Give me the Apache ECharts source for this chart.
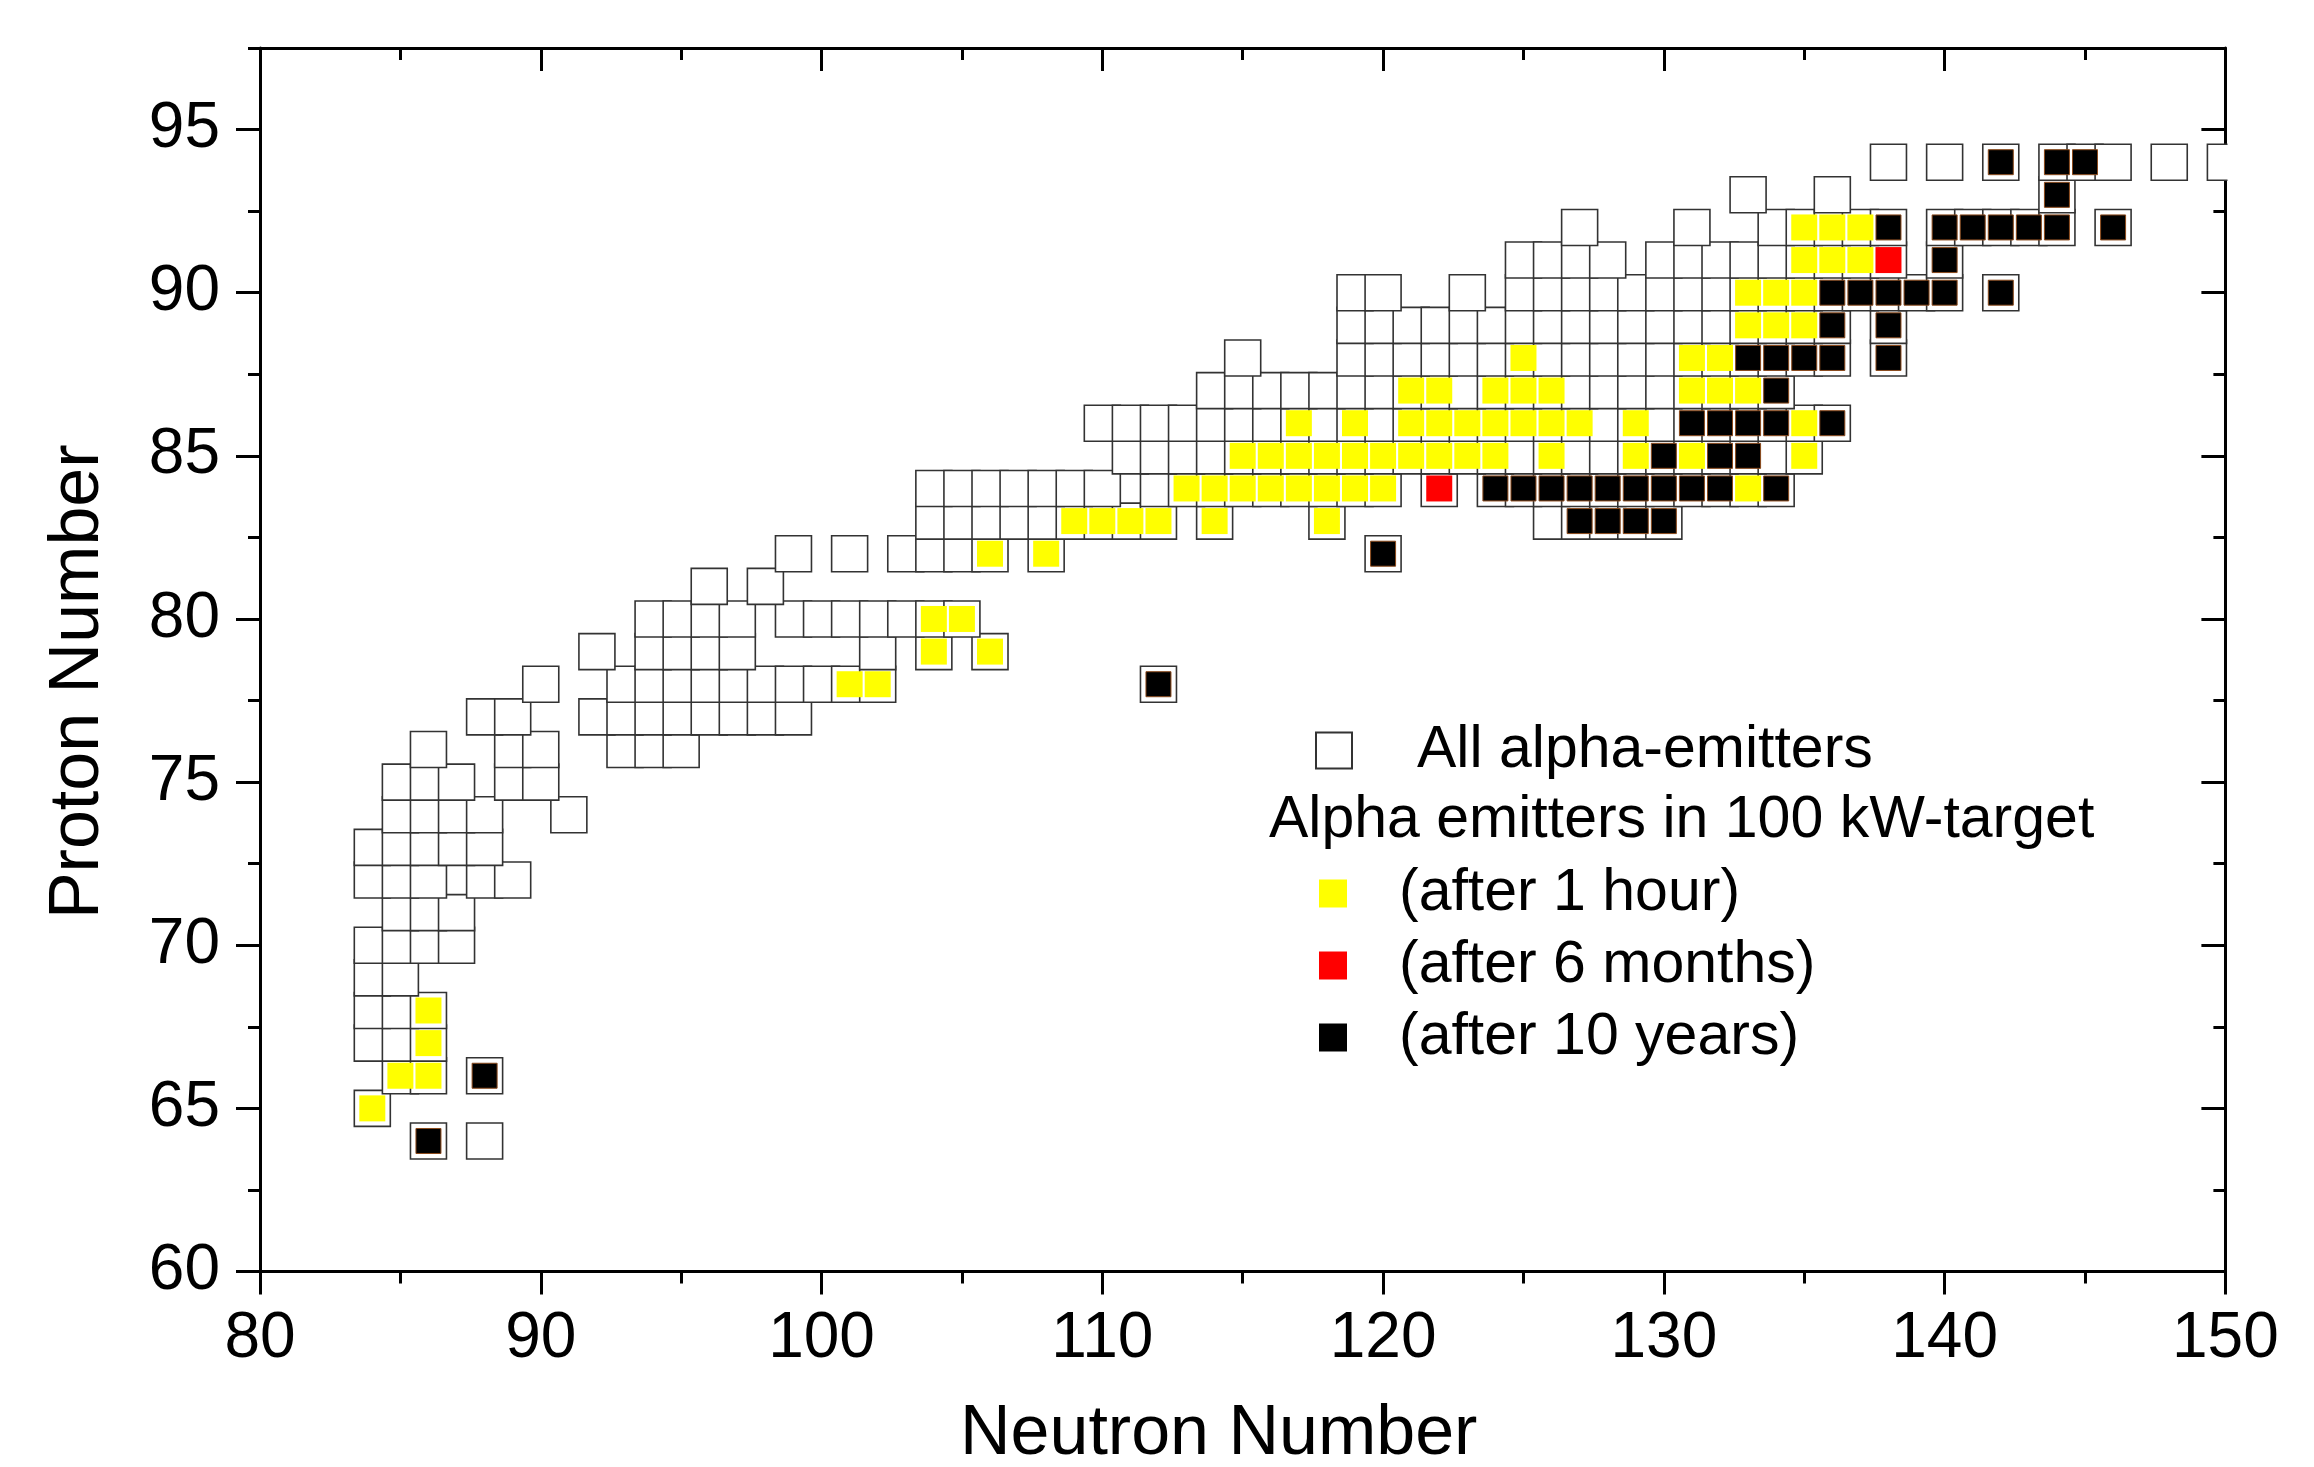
<!DOCTYPE html>
<html>
<head>
<meta charset="utf-8">
<title>Alpha emitters</title>
<script src="https://cdn.jsdelivr.net/npm/echarts@6/dist/echarts.min.js"></script>
<style>
    html, body { margin: 0; padding: 0; background: #fff; }
    #chart { width: 2314px; height: 1467px; }
</style>
</head>
<body>
<div id="chart"></div>
<script>
//************************* data ******************************//
// every row: [Z, N, N, ...]  (proton number first, then neutron numbers)
var allAlphaRows = [
    [64, 86, 88],
    [65, 84],
    [66, 85, 86, 88],
    [67, 84, 85, 86],
    [68, 84, 85, 86],
    [69, 84, 85],
    [70, 84, 85, 86, 87],
    [71, 85, 86, 87],
    [72, 84, 85, 86, 88, 89],
    [73, 84, 85, 86, 87, 88],
    [74, 85, 86, 87, 88, 91],
    [75, 85, 86, 87, 89, 90],
    [76, 86, 89, 90, 93, 94, 95],
    [77, 88, 89, 92, 93, 94, 95, 96, 97, 98, 99],
    [78, 90, 93, 94, 95, 96, 97, 98, 99, 100, 101, 102, 112],
    [79, 92, 94, 95, 96, 97, 102, 104, 106],
    [80, 94, 95, 96, 97, 99, 100, 101, 102, 103, 104, 105],
    [81, 96, 98],
    [82, 99, 101, 103, 104, 105, 106, 108, 120],
    [83, 104, 105, 106, 107, 108, 109, 110, 111, 112, 114, 118, 126, 127, 128, 129, 130],
    [84, 104, 105, 106, 107, 108, 109, 110, 112, 113, 114, 115, 116, 117, 118, 119, 120, 122, 124, 125, 126, 127, 128, 129, 130, 131, 132, 133, 134],
    [85, 111, 112, 113, 114, 115, 116, 117, 118, 119, 120, 121, 122, 123, 124, 125, 126, 127, 128, 129, 130, 131, 132, 133, 134, 135],
    [86, 110, 111, 112, 113, 114, 115, 116, 117, 118, 119, 120, 121, 122, 123, 124, 125, 126, 127, 128, 129, 130, 131, 132, 133, 134, 135, 136],
    [87, 114, 115, 116, 117, 118, 119, 120, 121, 122, 123, 124, 125, 126, 127, 128, 129, 130, 131, 132, 133, 134],
    [88, 115, 119, 120, 121, 122, 123, 124, 125, 126, 127, 128, 129, 130, 131, 132, 133, 134, 135, 136, 138],
    [89, 119, 120, 121, 122, 123, 124, 125, 126, 127, 128, 129, 130, 131, 132, 133, 134, 135, 136, 138],
    [90, 119, 120, 123, 125, 126, 127, 128, 129, 130, 131, 132, 133, 134, 135, 136, 137, 138, 139, 140, 142],
    [91, 125, 126, 127, 128, 130, 131, 132, 133, 134, 135, 136, 137, 138, 140],
    [92, 127, 131, 134, 135, 136, 137, 138, 140, 141, 142, 143, 144, 146],
    [93, 133, 136, 144],
    [94, 138, 140, 142, 144, 145, 146, 148, 150]
];
// alpha emitters in 100 kW target, after 1 hour
var after1hRows = [
    [65, 84],
    [66, 85, 86],
    [67, 86],
    [68, 86],
    [78, 101, 102],
    [79, 104, 106],
    [80, 104, 105],
    [82, 106, 108],
    [83, 109, 110, 111, 112, 114, 118],
    [84, 113, 114, 115, 116, 117, 118, 119, 120, 133],
    [85, 115, 116, 117, 118, 119, 120, 121, 122, 123, 124, 126, 129, 131, 135],
    [86, 117, 119, 121, 122, 123, 124, 125, 126, 127, 129, 135],
    [87, 121, 122, 124, 125, 126, 131, 132, 133],
    [88, 125, 131, 132],
    [89, 133, 134, 135],
    [90, 133, 134, 135],
    [91, 135, 136, 137],
    [92, 135, 136, 137]
];
// after 6 months
var after6mRows = [
    [84, 122],
    [91, 138]
];
// after 10 years
var after10yRows = [
    [64, 86],
    [66, 88],
    [78, 112],
    [82, 120],
    [83, 127, 128, 129, 130],
    [84, 124, 125, 126, 127, 128, 129, 130, 131, 132, 134],
    [85, 130, 132, 133],
    [86, 131, 132, 133, 134, 136],
    [87, 134],
    [88, 133, 134, 135, 136, 138],
    [89, 136, 138],
    [90, 136, 137, 138, 139, 140, 142],
    [91, 140],
    [92, 138, 140, 141, 142, 143, 144, 146],
    [93, 144],
    [94, 142, 144, 145]
];
// tick positions of the proton axis
var yMajorTicks = [60, 65, 70, 75, 80, 85, 90, 95];
var yMinorTicks = [62.5, 67.5, 72.5, 77.5, 82.5, 87.5, 92.5, 97.5];

//************************* chart ******************************//
var FONT = '"Liberation Sans", Arial, Helvetica, sans-serif';

// rows -> [N, Z] points
function rowsToPoints(rows){
    var pts = [];
    for(var i=0; i<rows.length; i++){
        var z = rows[i][0];
        for(var j=1; j<rows[i].length; j++){
            pts.push([rows[i][j], z]);
        }
    }
    return pts;
}

function xAxisCfg(pos){
    var inner = pos === 'top';
    return {
        type: 'value',
        position: pos,
        min: 80,
        max: 150,
        interval: 10,
        axisLine: { show: true, onZero: false, lineStyle: { color: '#000', width: 3 } },
        axisTick: { show: true, inside: inner, length: 23, lineStyle: { color: '#000', width: 3 } },
        minorTick: { show: true, splitNumber: 2, length: 12, lineStyle: { color: '#000', width: 3 } },
        axisLabel: { show: !inner, fontSize: 64, color: '#000', fontFamily: FONT, margin: 36 },
        splitLine: { show: false },
        name: inner ? '' : 'Neutron Number',
        nameLocation: 'middle',
        nameGap: 128,
        //标题略偏左
        nameTextStyle: { fontSize: 70, color: '#000', fontFamily: FONT, padding: [0, 48, 0, 0] }
    };
}

function yAxisCfg(pos, major){
    var inner = pos === 'right';
    var ticks = major ? yMajorTicks : yMinorTicks;
    return {
        type: 'value',
        position: pos,
        min: 60,
        max: 97.5,
        interval: 2.5,
        axisLine: { show: major, onZero: false, lineStyle: { color: '#000', width: 3 } },
        axisTick: { show: true, inside: inner, length: major ? 24 : 12, customValues: ticks,
                    lineStyle: { color: '#000', width: 3 } },
        axisLabel: { show: major && !inner, customValues: yMajorTicks, fontSize: 64, color: '#000',
                     fontFamily: FONT, margin: 40 },
        splitLine: { show: false },
        name: (major && !inner) ? 'Proton Number' : '',
        nameLocation: 'middle',
        nameGap: 146,
        //标题略偏下
        nameTextStyle: { fontSize: 70, color: '#000', fontFamily: FONT, padding: [0, 44, 0, 0] }
    };
}

function drawChart(){
    var myChart = echarts.init(document.getElementById('chart'), null, { renderer: 'canvas' });

    var option = {
        backgroundColor: '#fff',
        animation: false,
        grid: { left: 260, right: 88.6, top: 48, bottom: 195.5, containLabel: false, outerBoundsMode: 'none' },
        xAxis: [xAxisCfg('bottom'), xAxisCfg('top')],
        yAxis: [yAxisCfg('left', true), yAxisCfg('left', false), yAxisCfg('right', true), yAxisCfg('right', false)],
        legend: [{
            data: ['All alpha-emitters'],
            orient: 'vertical',
            left: 1315,
            top: 721,
            padding: 0,
            itemWidth: 36,
            itemHeight: 36,
            selectedMode: false,
            textStyle: { fontSize: 59, color: '#000', fontFamily: FONT, padding: [0, 0, 0, 60] }
        }, {
            data: ['(after 1 hour)', '(after 6 months)',
                   { name: '(after 10 years)', itemStyle: { borderWidth: 0 } }],
            orient: 'vertical',
            left: 1319,
            top: 864,
            padding: 0,
            itemWidth: 28,
            itemHeight: 28,
            itemGap: 13,
            selectedMode: false,
            textStyle: { fontSize: 59, lineHeight: 58, color: '#000', fontFamily: FONT, padding: [0, 0, 0, 47] }
        }],
        graphic: [{
            type: 'text',
            left: 1269,
            top: 791,
            style: { text: 'Alpha emitters in 100 kW-target', fontSize: 59, fontFamily: FONT, fill: '#000' }
        }, {
            // symbols on the right frame are cut at the axis
            type: 'rect',
            left: 2227.5,
            top: 90,
            z: 100,
            shape: { width: 80, height: 120 },
            style: { fill: '#fff' }
        }],
        series: [{
            name: 'All alpha-emitters',
            type: 'scatter',
            symbol: 'rect',
            symbolSize: [36, 36],
            silent: true,
            itemStyle: { color: '#fff', borderColor: '#333', borderWidth: 1.6, opacity: 1 },
            data: rowsToPoints(allAlphaRows)
        }, {
            name: '(after 1 hour)',
            type: 'scatter',
            symbol: 'rect',
            symbolSize: 26,
            silent: true,
            itemStyle: { color: '#ffff00', opacity: 1 },
            data: rowsToPoints(after1hRows)
        }, {
            name: '(after 6 months)',
            type: 'scatter',
            symbol: 'rect',
            symbolSize: 26,
            silent: true,
            itemStyle: { color: '#ff0000', opacity: 1 },
            data: rowsToPoints(after6mRows)
        }, {
            name: '(after 10 years)',
            type: 'scatter',
            symbol: 'rect',
            symbolSize: 25,
            silent: true,
            itemStyle: { color: '#000', borderColor: '#8b4a1c', borderWidth: 1, opacity: 1 },
            data: rowsToPoints(after10yRows)
        }]
    };

    myChart.setOption(option);
    window.onresize = myChart.resize;
}

drawChart();
</script>
</body>
</html>
